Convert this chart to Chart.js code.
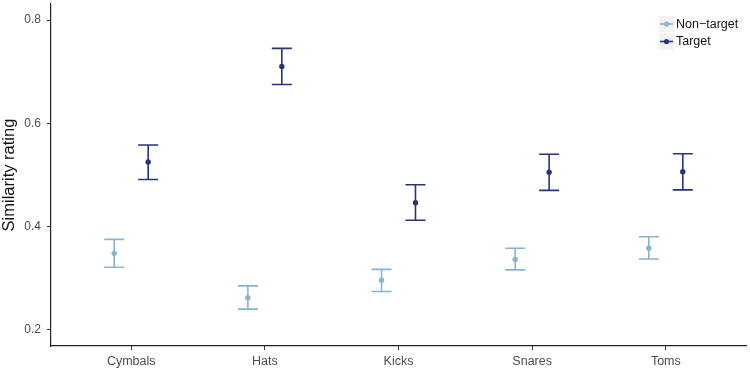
<!DOCTYPE html>
<html>
<head>
<meta charset="utf-8">
<script src="https://cdn.jsdelivr.net/npm/chart.js@4"></script>
<style>
  html, body { margin: 0; padding: 0; background: #fff; }
  #wrap { width: 750px; height: 371px; }
</style>
</head>
<body>
<div id="wrap"><canvas id="simChart" width="750" height="371"></canvas></div>
<script>
const categories = ["Cymbals", "Hats", "Kicks", "Snares", "Toms"];
const yTicks = [0.2, 0.4, 0.6, 0.8];

const nonTargetMean = [0.348, 0.262, 0.296, 0.336, 0.358];
const nonTargetLow  = [0.321, 0.240, 0.274, 0.316, 0.337];
const nonTargetHigh = [0.375, 0.285, 0.317, 0.358, 0.380];

const targetMean = [0.525, 0.710, 0.446, 0.505, 0.506];
const targetLow  = [0.491, 0.675, 0.412, 0.470, 0.471];
const targetHigh = [0.558, 0.745, 0.481, 0.540, 0.541];

const nonTargetColor = "#87b4cf";
const targetColor = "#26347d";
const dodge = 0.127;
const capHalf = 0.075;

const toPoints = (means, shift) =>
    means.map((v, i) => ({ x: i + 1 + shift, y: v }));

// error bars drawn through the chart's own scales
const errorBars = {
    id: "errorBars",
    afterDatasetsDraw(chart) {
        const { ctx, scales: { x, y } } = chart;
        chart.data.datasets.forEach((ds) => {
            ctx.save();
            ctx.strokeStyle = ds.borderColor;
            ctx.lineWidth = 1.6;
            ds.data.forEach((p, i) => {
                const px = x.getPixelForValue(p.x);
                const l = x.getPixelForValue(p.x - capHalf);
                const r = x.getPixelForValue(p.x + capHalf);
                const top = y.getPixelForValue(ds.high[i]);
                const bot = y.getPixelForValue(ds.low[i]);
                ctx.beginPath();
                ctx.moveTo(px, top); ctx.lineTo(px, bot);
                ctx.moveTo(l, top); ctx.lineTo(r, top);
                ctx.moveTo(l, bot); ctx.lineTo(r, bot);
                ctx.stroke();
            });
            ctx.restore();
        });
    },
};

// ggplot-ish legend in the top right corner
const keyLegend = {
    id: "keyLegend",
    afterDraw(chart) {
        const { ctx } = chart;
        const x0 = 659, y0 = 24, rowH = 17.5, keyW = 15;
        chart.data.datasets.forEach((ds, i) => {
            const cy = y0 + i * rowH;
            ctx.save();
            ctx.fillStyle = "#f2f2f2";
            ctx.fillRect(x0, cy - 8, keyW, 16);
            ctx.strokeStyle = ds.borderColor;
            ctx.lineWidth = 1.6;
            ctx.beginPath();
            ctx.moveTo(x0 + 1, cy); ctx.lineTo(x0 + keyW - 1, cy);
            ctx.stroke();
            ctx.fillStyle = ds.borderColor;
            ctx.beginPath();
            ctx.arc(x0 + keyW / 2, cy, 2.6, 0, Math.PI * 2);
            ctx.fill();
            ctx.fillStyle = "#111";
            ctx.font = "12.5px 'Liberation Sans', Arial, sans-serif";
            ctx.textBaseline = "middle";
            ctx.fillText(ds.label, x0 + keyW + 2, cy + 0.5);
            ctx.restore();
        });
    },
};

const fontFamily = "'Liberation Sans', Arial, sans-serif";

new Chart(document.getElementById("simChart"), {
    type: "scatter",
    data: {
        datasets: [
            {
                label: "Non\u2212target",
                data: toPoints(nonTargetMean, -dodge),
                low: nonTargetLow,
                high: nonTargetHigh,
                borderColor: nonTargetColor,
                backgroundColor: nonTargetColor,
                pointRadius: 2.7,
                pointBorderWidth: 0,
            },
            {
                label: "Target",
                data: toPoints(targetMean, dodge),
                low: targetLow,
                high: targetHigh,
                borderColor: targetColor,
                backgroundColor: targetColor,
                pointRadius: 2.7,
                pointBorderWidth: 0,
            },
        ],
    },
    plugins: [errorBars, keyLegend],
    options: {
        responsive: false,
        animation: false,
        layout: { padding: { top: 3, right: 2, left: 0, bottom: 0 } },
        plugins: {
            legend: { display: false },
            tooltip: { enabled: false },
        },
        scales: {
            x: {
                type: "linear",
                min: 0.4,
                max: 5.6,
                afterBuildTicks: (scale) => {
                    scale.ticks = categories.map((c, i) => ({ value: i + 1 }));
                },
                afterFit: (scale) => {
                    scale.height = 25;
                    scale.paddingLeft = 0;
                    scale.paddingRight = 0;
                },
                ticks: {
                    callback: (v) => categories[v - 1] || "",
                    color: "#4d4d4d",
                    font: { family: fontFamily, size: 12.5 },
                    padding: 4,
                    maxRotation: 0,
                },
                grid: {
                    drawOnChartArea: false,
                    drawTicks: true,
                    tickLength: 4,
                    color: "#333",
                },
                border: { display: true, color: "#222", width: 1.2 },
            },
            y: {
                min: 0.1685,
                max: 0.831,
                afterBuildTicks: (scale) => {
                    scale.ticks = yTicks.map((v) => ({ value: v }));
                },
                afterFit: (scale) => {
                    scale.width = 51;
                    scale.paddingTop = 0;
                    scale.paddingBottom = 0;
                },
                ticks: {
                    callback: (v) => v.toFixed(1),
                    color: "#4d4d4d",
                    font: { family: fontFamily, size: 12 },
                    padding: 6,
                },
                title: {
                    display: true,
                    text: "Similarity rating",
                    color: "#111",
                    font: { family: fontFamily, size: 16.5 },
                    padding: { top: 0, bottom: 2 },
                },
                grid: {
                    drawOnChartArea: false,
                    drawTicks: true,
                    tickLength: 4,
                    color: "#333",
                },
                border: { display: true, color: "#222", width: 1.2 },
            },
        },
    },
});
</script>
</body>
</html>
